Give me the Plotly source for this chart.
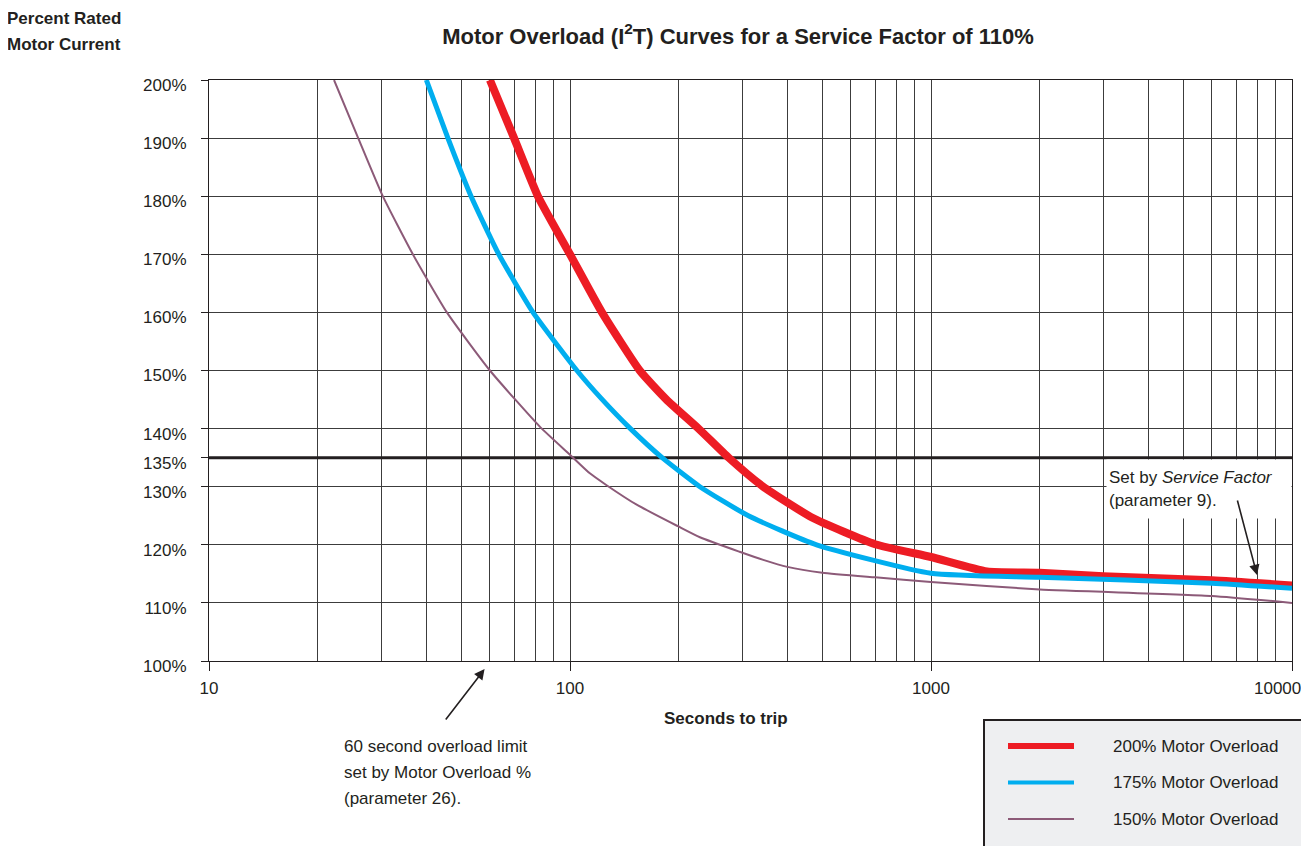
import numpy as np
import plotly.graph_objects as go

# ---------------- data ----------------
red_t = [60, 70, 81.5, 100, 122.6, 156, 185, 227, 275, 343, 471, 700, 1000, 1430, 2000, 3000, 6000, 10000]
red_pct = [200, 190, 180, 170, 160, 150, 145, 140, 135, 130, 124.6, 120.1, 117.9, 115.4, 115.2, 114.6, 113.9, 113.0]

blue_t = [40, 45.9, 53.2, 63.5, 79, 104.5, 122, 147, 180, 229, 312, 482, 1000, 2000, 6000, 10000]
blue_pct = [200, 190, 180, 170, 160, 150, 145.2, 140, 135, 130, 125, 120, 115.1, 114.4, 113.4, 112.5]

purple_t = [22.2, 25.9, 30.3, 36.7, 45.6, 60, 82.6, 100, 113.5, 126, 153, 199, 229, 295, 343, 400, 500, 700, 1000, 2000, 6000, 10000]
purple_pct = [200, 190, 180, 170, 160, 150, 140.3, 135.5, 132.3, 130.3, 126.9, 123.2, 121.3, 118.8, 117.4, 116.2, 115.2, 114.4, 113.6, 112.3, 111.2, 110.0]

limit_t = [10, 10000]
limit_pct = [135, 135]

series_names = ["200% Motor Overload", "175% Motor Overload", "150% Motor Overload"]

x_major = [10, 100, 1000, 10000]
x_labels = ["10", "100", "1000", ""]      # last label drawn as a note so it stays inside the page
x_last_label = "10000"
x_minor = [m * d for d in (10, 100, 1000) for m in range(2, 10)]
y_ticks = [100, 110, 120, 130, 135, 140, 150, 160, 170, 180, 190, 200]
y_labels = [f"{v}%" for v in y_ticks]

# ---------------- styles ----------------
FONT = "Liberation Sans, Arial, Helvetica, sans-serif"
TXT = "#231f20"
GRID = "#3c3c3c"
colors = ["#ed1c24", "#00aeef", "#8c5a78"]
widths = [8, 5, 2]
legend_widths = [6, 4, 2]
series_t = [red_t, blue_t, purple_t]
series_p = [red_pct, blue_pct, purple_pct]

fig = go.Figure()
fig.add_trace(go.Scatter(x=limit_t, y=limit_pct, mode="lines",
                         line=dict(color=TXT, width=3), showlegend=False, hoverinfo="skip"))
for name, t, p, c, w in zip(series_names, series_t, series_p, colors, widths):
    fig.add_trace(go.Scatter(x=t, y=p, mode="lines", name=name,
                             line=dict(color=c, width=w, shape="spline", smoothing=0.5),
                             showlegend=False))

fig.update_xaxes(type="log", range=[1, 4], tickmode="array", tickvals=x_major, ticktext=x_labels,
                 ticks="outside", ticklen=9, tickcolor=TXT, tickwidth=1,
                 showgrid=True, gridcolor=GRID, gridwidth=1,
                 minor=dict(tickmode="array", tickvals=x_minor, showgrid=True, gridcolor=GRID,
                            gridwidth=1, ticks=""),
                 showline=True, linecolor=TXT, linewidth=1, mirror=True, zeroline=False,
                 tickfont=dict(family=FONT, size=17, color=TXT), ticklabelstandoff=3,
                 automargin=False)
fig.update_yaxes(range=[100, 200], tickmode="array", tickvals=y_ticks, ticktext=y_labels,
                 ticks="outside", ticklen=7, tickcolor=TXT, tickwidth=1,
                 showgrid=True, gridcolor=GRID, gridwidth=1,
                 showline=True, linecolor=TXT, linewidth=1, mirror=True, zeroline=False,
                 tickfont=dict(family=FONT, size=17, color=TXT), ticklabelstandoff=11,
                 ticklabelshift=5, automargin=False)

# page is 1309x846; the page body adds an 8px margin around the figure
OFF = 8
PAGE_W, PAGE_H = 1309, 846
W, H = PAGE_W - OFF, PAGE_H - OFF
PL, PR, PT, PB = 209, 1292, 80, 661          # plot area in page pixels
ML, MT = PL - OFF, PT - OFF
MR, MB = W - (PR - OFF), H - (PB - OFF)
PW, PH = PR - PL, PB - PT


def px(x):
    return (x - PL) / PW


def py(y):
    return (PB - y) / PH


annotations = []
# last x tick label, nudged left like the reference
annotations.append(dict(text=x_last_label, xref="paper", yref="paper", x=px(1277), y=py(688),
                        xanchor="center", yanchor="middle", showarrow=False,
                        font=dict(family=FONT, size=17, color=TXT)))
# top-left y-axis title
for i, line in enumerate(["Percent Rated", "Motor Current"]):
    annotations.append(dict(text=f"<b>{line}</b>", xref="paper", yref="paper", x=px(5), y=py(18 + 26 * i),
                            xanchor="left", yanchor="middle", showarrow=False,
                            font=dict(family=FONT, size=17, color=TXT)))
# x-axis title
annotations.append(dict(text="<b>Seconds to trip</b>", xref="paper", yref="paper", x=px(726), y=py(718),
                        xanchor="center", yanchor="middle", showarrow=False,
                        font=dict(family=FONT, size=17, color=TXT)))
# 60 second note
for i, line in enumerate(["60 second overload limit", "set by Motor Overload %", "(parameter 26)."]):
    annotations.append(dict(text=line, xref="paper", yref="paper", x=px(342), y=py(746 + 26 * i),
                            xanchor="left", yanchor="middle", showarrow=False,
                            font=dict(family=FONT, size=17, color=TXT)))
annotations.append(dict(text="", x=np.log10(58), y=py(669), xref="x", yref="paper", showarrow=True,
                        ax=-40, ay=52, arrowhead=2, arrowsize=1.3, arrowwidth=1.6, arrowcolor=TXT))
# service factor note
annotations.append(dict(text="Set by <i>Service Factor</i><br>(parameter 9).", xref="paper", yref="paper",
                        x=px(1106), y=py(459), xanchor="left", yanchor="top", align="left",
                        width=180, height=54, valign="middle", bgcolor="white", borderpad=2,
                        showarrow=False, font=dict(family=FONT, size=17, color=TXT)))
annotations.append(dict(text="", x=np.log10(8000), y=114.8, xref="x", yref="y", showarrow=True,
                        ax=-20, ay=-76, arrowhead=2, arrowsize=1.3, arrowwidth=1.6, arrowcolor=TXT))

# custom legend
shapes = [dict(type="rect", xref="paper", yref="paper", x0=px(984), x1=px(1302), y0=py(720), y1=py(870),
               fillcolor="#eeeff1", line=dict(color=TXT, width=2), layer="above")]
for i, (name, c, lw) in enumerate(zip(series_names, colors, legend_widths)):
    yy = py(746 + 36.5 * i)
    shapes.append(dict(type="line", xref="paper", yref="paper", x0=px(1008), x1=px(1074), y0=yy, y1=yy,
                       line=dict(color=c, width=lw), layer="above"))
    annotations.append(dict(text=name, xref="paper", yref="paper", x=px(1111), y=yy,
                            xanchor="left", yanchor="middle", showarrow=False,
                            font=dict(family=FONT, size=17, color=TXT)))

fig.update_layout(
    width=W, height=H,
    margin=dict(l=ML, r=MR, t=MT, b=MB, pad=0, autoexpand=False),
    paper_bgcolor="white", plot_bgcolor="white",
    title=dict(text="<b>Motor Overload (I<sup>2</sup>T) Curves for a Service Factor of 110%</b>",
               x=(738 - OFF) / W, xanchor="center", y=1 - (36 - OFF) / H, yanchor="middle",
               font=dict(family=FONT, size=22, color=TXT)),
    showlegend=False,
    annotations=annotations,
    shapes=shapes,
    font=dict(family=FONT, color=TXT),
)

fig.write_html("out.html")
